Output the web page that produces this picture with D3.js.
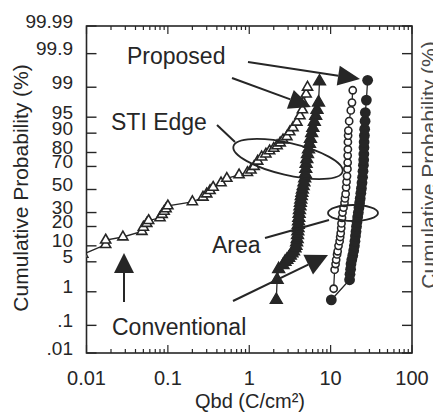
<!DOCTYPE html>
<html>
<head>
<meta charset="utf-8">
<script src="https://cdn.jsdelivr.net/npm/d3@7"></script>
<style>
  body { margin: 0; background: #fff; }
  svg { display: block; font-family: "Liberation Sans", Arial, sans-serif; }
</style>
</head>
<body>
<svg id="chart"></svg>
<script>
// Qbd (C/cm2) vs cumulative probability (%)
let xTicks = [0.01, 0.1, 1, 10, 100];
let xTickLabels = ["0.01", "0.1", "1", "10", "100"];
let yTicks = [0.01, 0.1, 1, 5, 10, 20, 30, 50, 70, 80, 90, 95, 99, 99.9, 99.99];
let yTickLabels = [".01", ".1", "1", "5", "10", "20", "30", "50", "70", "80", "90", "95", "99", "99.9", "99.99"];

// STI edge, conventional (open triangles)
let stiConventional = [
  [0.009, 7], [0.0172, 10.5], [0.0172, 12.5], [0.028, 14], [0.048, 17], [0.05, 19.5],
  [0.055, 22], [0.058, 24], [0.08, 26], [0.085, 28.5], [0.09, 31], [0.095, 33],
  [0.1, 35.5], [0.2, 39], [0.27, 43], [0.3, 46], [0.33, 49], [0.36, 52], [0.45, 56],
  [0.53, 60], [0.75, 63], [0.95, 65], [1.05, 67], [1.15, 70], [1.27, 74], [1.42, 77],
  [1.6, 79], [1.78, 81], [2.0, 82.5], [2.2, 84], [2.4, 85.5], [2.6, 87], [2.9, 88.5],
  [3.15, 90.5], [3.45, 92], [3.85, 93.7], [4.2, 95.3], [4.5, 96.5], [4.6, 97.6],
  [5.0, 98.5], [5.2, 99]
];
// STI edge, proposed (filled triangles)
let stiProposed = [
  [2.15, 0.6], [2.2, 2.0], [2.3, 3.5], [2.6, 4.3], [2.75, 5], [2.9, 5.5], [3.05, 6],
  [3.2, 6.6], [3.35, 7.3], [3.5, 8], [3.65, 9], [3.75, 10], [3.82, 11.5], [3.88, 13],
  [3.92, 15], [3.95, 17], [3.98, 19], [4.0, 21], [4.03, 23.5], [4.06, 26], [4.1, 29],
  [4.14, 32], [4.2, 35], [4.25, 38], [4.3, 41], [4.36, 44], [4.43, 47], [4.5, 50],
  [4.6, 53], [4.7, 56.5], [4.8, 60], [4.88, 64], [4.95, 68], [5.0, 72], [5.1, 75.5],
  [5.2, 79], [5.35, 82], [5.5, 85], [5.65, 87.5], [5.85, 90], [6.05, 92], [6.3, 93.8],
  [6.55, 95.3], [6.8, 96.5], [7.1, 97.6], [7.3, 99.3]
];
// Area, conventional (open circles)
let areaConventional = [
  [10.9, 1.2], [11.2, 3.4], [11.5, 4.5], [11.7, 5.5], [12.0, 7], [12.2, 8], [12.5, 10],
  [12.9, 12], [13.1, 14], [13.3, 16], [13.5, 19], [13.6, 22], [13.8, 26], [14.0, 30],
  [14.4, 34], [14.8, 38], [15.0, 42], [15.3, 46], [15.5, 52], [15.7, 57], [15.9, 62],
  [16.1, 68], [16.2, 73], [16.2, 78], [16.3, 82], [16.3, 86], [16.4, 89], [16.5, 91],
  [16.9, 94], [17.7, 96.4], [18.3, 97.6], [18.7, 98.8]
];
// Area, proposed (filled circles)
let areaProposed = [
  [10.2, 0.6], [17.1, 2.0], [17.3, 2.7], [17.6, 3.5], [17.8, 4.5], [18.2, 5.5], [18.7, 6.7],
  [19.2, 8.2], [19.6, 10], [19.9, 12], [20.2, 14.5], [20.5, 17], [20.8, 20], [21.1, 23],
  [21.5, 26.5], [21.9, 30], [22.3, 34], [22.7, 38], [23.1, 42], [23.5, 46.5], [23.9, 51],
  [24.3, 56], [24.7, 61], [25.0, 66], [25.3, 71], [25.5, 75], [25.6, 79], [25.7, 83],
  [25.8, 86], [26.0, 89], [26.2, 91.5], [26.5, 94], [26.7, 96], [27.5, 97.9], [28.5, 99.35]
];

const ink = "#262626";

// inverse normal cdf (Acklam)
function probit(p) {
  const a = [-39.69683028665376, 220.9460984245205, -275.9285104469687, 138.3577518672690, -30.66479806614716, 2.506628277459239];
  const b = [-54.47609879822406, 161.5858368580409, -155.6989798598866, 66.80131188771972, -13.28068155288572];
  const c = [-0.007784894002430293, -0.3223964580411365, -2.400758277161838, -2.549732539343734, 4.374664141464968, 2.938163982698783];
  const d = [0.007784695709041462, 0.3224671290700398, 2.445134137142996, 3.754408661907416];
  const pl = 0.02425;
  let q, r;
  if (p < pl) {
    q = Math.sqrt(-2 * Math.log(p));
    return (((((c[0]*q+c[1])*q+c[2])*q+c[3])*q+c[4])*q+c[5]) / ((((d[0]*q+d[1])*q+d[2])*q+d[3])*q+1);
  }
  if (p <= 1 - pl) {
    q = p - 0.5; r = q * q;
    return (((((a[0]*r+a[1])*r+a[2])*r+a[3])*r+a[4])*r+a[5])*q / (((((b[0]*r+b[1])*r+b[2])*r+b[3])*r+b[4])*r+1);
  }
  q = Math.sqrt(-2 * Math.log(1 - p));
  return -(((((c[0]*q+c[1])*q+c[2])*q+c[3])*q+c[4])*q+c[5]) / ((((d[0]*q+d[1])*q+d[2])*q+d[3])*q+1);
}

function drawChart() {
  let w = 433, h = 414;
  let left = 86.5, right = 412, top = 26, bottom = 353;

  let svg = d3.select("#chart").attr("width", w).attr("height", h);
  svg.append("rect").attr("width", w).attr("height", h).attr("fill", "#fff");

  let x = d3.scaleLog().domain([0.01, 100]).range([left, right]);
  let zScale = d3.scaleLinear().domain([probit(0.0001), probit(0.9999)]).range([bottom, top]);
  let y = p => zScale(probit(p / 100));

  svg.append("clipPath").attr("id", "plotclip")
    .append("rect").attr("x", left).attr("y", top).attr("width", right - left).attr("height", bottom - top);

  // frame
  svg.append("rect")
    .attr("x", left).attr("y", top)
    .attr("width", right - left).attr("height", bottom - top)
    .attr("fill", "none").attr("stroke", ink).attr("stroke-width", 1.6);

  // x ticks, bottom and top, pointing inward
  let minor = [];
  for (let dec = 0.01; dec < 100; dec *= 10) {
    for (let k = 2; k <= 9; k++) minor.push(dec * k);
  }
  let xt = svg.append("g").attr("stroke", ink).attr("stroke-width", 1.2);
  xt.selectAll(".mb").data(minor).enter().append("line")
    .attr("x1", d => x(d)).attr("x2", d => x(d))
    .attr("y1", bottom).attr("y2", bottom - 4);
  xt.selectAll(".mt").data(minor).enter().append("line")
    .attr("x1", d => x(d)).attr("x2", d => x(d))
    .attr("y1", top).attr("y2", top + 4);
  xt.selectAll(".Mb").data(xTicks).enter().append("line")
    .attr("x1", d => x(d)).attr("x2", d => x(d))
    .attr("y1", bottom).attr("y2", bottom - 8);
  xt.selectAll(".Mt").data(xTicks).enter().append("line")
    .attr("x1", d => x(d)).attr("x2", d => x(d))
    .attr("y1", top).attr("y2", top + 8);

  svg.selectAll(".xlab").data(xTicks).enter().append("text")
    .attr("x", d => x(d)).attr("y", 385)
    .attr("text-anchor", "middle").attr("font-size", "20px").attr("fill", ink)
    .text((d, i) => xTickLabels[i]);

  // y ticks, left and right
  let yt = svg.append("g").attr("stroke", ink).attr("stroke-width", 1.4);
  yt.selectAll(".yl").data(yTicks).enter().append("line")
    .attr("x1", left).attr("x2", left + 10)
    .attr("y1", d => y(d)).attr("y2", d => y(d));
  yt.selectAll(".yr").data(yTicks).enter().append("line")
    .attr("x1", right).attr("x2", right - 10)
    .attr("y1", d => y(d)).attr("y2", d => y(d));

  svg.selectAll(".ylab").data(yTicks).enter().append("text")
    .attr("x", 73).attr("y", d => y(d) - 5).attr("dy", "0.35em")
    .attr("text-anchor", "end").attr("font-size", "19px").attr("fill", ink)
    .text((d, i) => yTickLabels[i]);

  // axis titles
  svg.append("text")
    .attr("x", 250).attr("y", 408).attr("text-anchor", "middle")
    .attr("font-size", "20px").attr("fill", ink)
    .text("Qbd (C/cm²)");
  svg.append("text")
    .attr("transform", "translate(28,188) rotate(-90)")
    .attr("text-anchor", "middle").attr("font-size", "21px").attr("fill", ink)
    .text("Cumulative Probability (%)");
  // neighbour panel's title, cut by the edge
  svg.append("text")
    .attr("transform", "translate(436,165) rotate(-90)")
    .attr("text-anchor", "middle").attr("font-size", "21px").attr("fill", "#4a4a4a")
    .text("Cumulative Probability (%)");

  let plot = svg.append("g").attr("clip-path", "url(#plotclip)");
  let line = d3.line().x(d => x(d[0])).y(d => y(d[1]));

  [stiConventional, stiProposed, areaConventional, areaProposed].forEach(s => {
    plot.append("path").datum(s)
      .attr("d", line).attr("fill", "none")
      .attr("stroke", ink).attr("stroke-width", 1.3);
  });

  let tri = d3.symbol().type(d3.symbolTriangle);

  plot.selectAll(".pt-b").data(stiProposed).enter().append("path")
    .attr("d", tri.size(62)())
    .attr("transform", d => `translate(${x(d[0])},${y(d[1])})`)
    .attr("fill", ink).attr("stroke", ink).attr("stroke-width", 1.4);

  plot.selectAll(".pt-a").data(stiConventional).enter().append("path")
    .attr("d", tri.size(44)())
    .attr("transform", d => `translate(${x(d[0])},${y(d[1])})`)
    .attr("fill", "#fff").attr("stroke", ink).attr("stroke-width", 1.6);

  plot.selectAll(".pt-d").data(areaProposed).enter().append("circle")
    .attr("cx", d => x(d[0])).attr("cy", d => y(d[1])).attr("r", 5.4)
    .attr("fill", ink);

  plot.selectAll(".pt-c").data(areaConventional).enter().append("circle")
    .attr("cx", d => x(d[0])).attr("cy", d => y(d[1])).attr("r", 3.6)
    .attr("fill", "#fff").attr("stroke", ink).attr("stroke-width", 1.6);

  // annotations
  let ann = svg.append("g");
  let texts = [
    { t: "Proposed", x: 127, y: 64 },
    { t: "STI Edge", x: 111, y: 130 },
    { t: "Area", x: 212, y: 253 },
    { t: "Conventional", x: 112, y: 335 }
  ];
  ann.selectAll("text").data(texts).enter().append("text")
    .attr("x", d => d.x).attr("y", d => d.y)
    .attr("font-size", "23px").attr("fill", ink)
    .text(d => d.t);

  ann.append("ellipse")
    .attr("transform", "translate(288,159) rotate(13)")
    .attr("rx", 56).attr("ry", 16)
    .attr("fill", "none").attr("stroke", ink).attr("stroke-width", 1.8);
  ann.append("ellipse")
    .attr("cx", 353).attr("cy", 213).attr("rx", 25).attr("ry", 8)
    .attr("fill", "none").attr("stroke", ink).attr("stroke-width", 1.8);

  let plain = [
    [217, 125, 235, 142],
    [265, 238, 329, 220]
  ];
  ann.selectAll(".pl").data(plain).enter().append("line")
    .attr("x1", d => d[0]).attr("y1", d => d[1]).attr("x2", d => d[2]).attr("y2", d => d[3])
    .attr("stroke", ink).attr("stroke-width", 2);

  let arrows = [
    { x1: 248, y1: 62, x2: 360, y2: 79, len: 22, hw: 10 },
    { x1: 232, y1: 78, x2: 311, y2: 107, len: 22, hw: 10 },
    { x1: 124, y1: 302, x2: 124, y2: 253, len: 20, hw: 10 },
    { x1: 233, y1: 301, x2: 328, y2: 255, len: 22, hw: 11 }
  ];
  arrows.forEach(a => {
    let dx = a.x2 - a.x1, dy = a.y2 - a.y1;
    let L = Math.hypot(dx, dy), ux = dx / L, uy = dy / L;
    let bx = a.x2 - ux * a.len, by = a.y2 - uy * a.len;
    ann.append("line")
      .attr("x1", a.x1).attr("y1", a.y1).attr("x2", bx).attr("y2", by)
      .attr("stroke", ink).attr("stroke-width", 2);
    ann.append("path")
      .attr("d", `M${a.x2},${a.y2}L${bx - uy * a.hw},${by + ux * a.hw}L${bx + uy * a.hw},${by - ux * a.hw}Z`)
      .attr("fill", ink);
  });
}

window.onload = function() {
  drawChart();
}
</script>
</body>
</html>
